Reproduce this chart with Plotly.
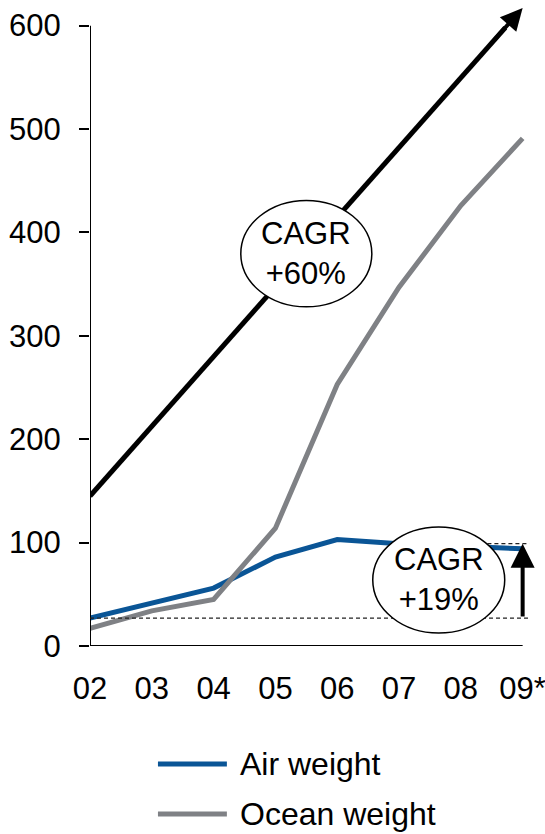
import plotly.graph_objects as go

# Years on the x axis (2009 is an estimate)
years = ["02", "03", "04", "05", "06", "07", "08", "09*"]
# Shipped weight, indexed values
air_weight = [27, 42, 56, 86, 103, 99, 97, 94]
ocean_weight = [17, 34, 45, 114, 253, 347, 426, 491]
series_names = ["Air weight", "Ocean weight"]
series_colors = ["#0a5596", "#7f8185"]

# Growth trend arrow for ocean weight (start value, tip value)
ocean_trend = [145, 617]
ocean_cagr = "+60%"
# Air weight growth bracket (2002 level, 2009 level)
air_bracket = [27, 99]
air_cagr = "+19%"

y_ticks = [0, 100, 200, 300, 400, 500, 600]

FONT = "Liberation Sans, Arial, sans-serif"
x = list(range(len(years)))
last = x[-1]

fig = go.Figure()

# Straight trend line (arrowhead added as an annotation below)
tail_frac = 0.96
tail_x = last * tail_frac
tail_y = ocean_trend[0] + (ocean_trend[1] - ocean_trend[0]) * tail_frac
fig.add_trace(go.Scatter(
    x=[0, tail_x], y=[ocean_trend[0], tail_y], mode="lines",
    line=dict(color="black", width=5), hoverinfo="skip", showlegend=False,
))

for vals, name, col in zip([air_weight, ocean_weight], series_names, series_colors):
    fig.add_trace(go.Scatter(
        x=x, y=vals, mode="lines", name=name,
        line=dict(color=col, width=5), showlegend=False,
    ))

shapes = []
# Axis lines
shapes.append(dict(type="line", xref="x", yref="y", x0=0, x1=0, y0=0, y1=600,
                   line=dict(color="black", width=2), layer="above"))
shapes.append(dict(type="line", xref="x", yref="y", x0=-0.2, x1=last, y0=0, y1=0,
                   line=dict(color="black", width=2), layer="above"))
# Dashed reference levels for the air bracket
shapes.append(dict(type="line", xref="x", yref="y", x0=0, x1=last + 0.11,
                   y0=air_bracket[0], y1=air_bracket[0],
                   line=dict(color="#222222", width=1.2, dash="4px,3px"), layer="above"))
shapes.append(dict(type="line", xref="x", yref="y", x0=last - 0.57, x1=last + 0.11,
                   y0=air_bracket[1], y1=air_bracket[1],
                   line=dict(color="#222222", width=1.2, dash="4px,3px"), layer="above"))
# CAGR bubbles
shapes.append(dict(type="circle", xref="x", yref="y", x0=2.44, x1=4.56, y0=328, y1=431,
                   fillcolor="white", line=dict(color="black", width=1.5), layer="above"))
shapes.append(dict(type="circle", xref="x", yref="y", x0=4.575, x1=6.71, y0=12.6, y1=115,
                   fillcolor="white", line=dict(color="black", width=1.5), layer="above"))
# Legend swatches
for yy, col in zip([-0.1827, -0.260], series_colors):
    shapes.append(dict(type="line", xref="paper", yref="paper", x0=0.1527, x1=0.3076,
                       y0=yy, y1=yy, line=dict(color=col, width=5)))

annotations = [
    # Arrowhead of the trend line
    dict(x=last, y=ocean_trend[1], ax=tail_x - 0.25,
         ay=tail_y - 0.25 * (ocean_trend[1] - ocean_trend[0]) / last,
         xref="x", yref="y", axref="x", ayref="y", text="", showarrow=True,
         arrowhead=2, arrowsize=1.1, arrowwidth=4, arrowcolor="black"),
    # Vertical bracket arrow for air weight
    dict(x=last, y=air_bracket[1], ax=last, ay=air_bracket[0],
         xref="x", yref="y", axref="x", ayref="y", text="", showarrow=True,
         arrowhead=2, arrowsize=1.2, arrowwidth=4, arrowcolor="black"),
    dict(x=3.5, y=379.5, xref="x", yref="y", text="CAGR<br>" + ocean_cagr, showarrow=False,
         font=dict(family=FONT, size=31, color="black")),
    dict(x=5.64, y=64, xref="x", yref="y", text="CAGR<br>" + air_cagr, showarrow=False,
         font=dict(family=FONT, size=31, color="black")),
]
for yy, name in zip([-0.1827, -0.260], series_names):
    annotations.append(dict(x=0.3323, y=yy, xref="paper", yref="paper", text=name,
                            showarrow=False, xanchor="left", yanchor="middle",
                            font=dict(family=FONT, size=32, color="black")))

fig.update_layout(
    width=545, height=834,
    margin=dict(l=90, r=9.6, t=0, b=188),
    paper_bgcolor="white", plot_bgcolor="white",
    font=dict(family=FONT, size=31, color="black"),
    shapes=shapes, annotations=annotations,
    showlegend=False,
    xaxis=dict(range=[0, 7.2], tickvals=x, ticktext=years, showgrid=False,
               zeroline=False, showline=False, ticks="", ticklabelstandoff=21,
               ticklabeloverflow="allow",
               tickfont=dict(family=FONT, size=31, color="black")),
    yaxis=dict(range=[0, 624.8], tickvals=y_ticks, showgrid=False, zeroline=False,
               showline=False, ticks="outside", ticklen=10, tickwidth=2,
               tickcolor="black", ticklabelstandoff=12,
               tickfont=dict(family=FONT, size=31, color="black")),
)

fig.write_html("out.html")
